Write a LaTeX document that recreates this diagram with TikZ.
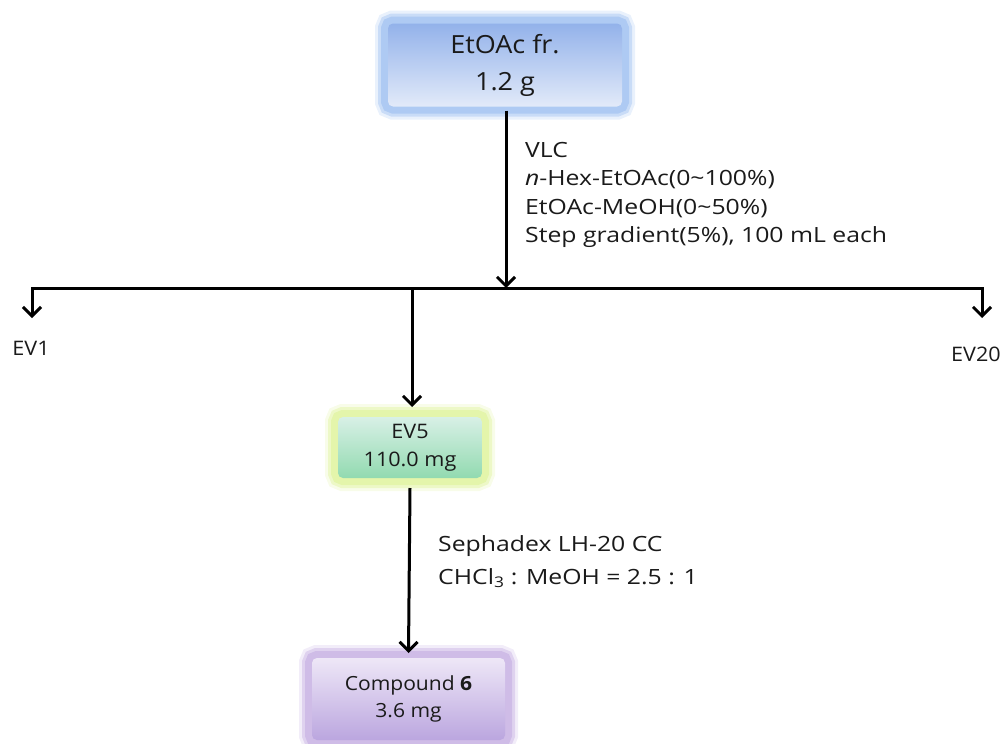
\documentclass[tikz,border=0pt]{standalone}
\usepackage{fontspec}
\setmainfont{Open Sans}
\newfontfamily\wide[FakeStretch=1.18]{Open Sans}
\newfontfamily\wideb[FakeStretch=1.08]{Open Sans}
\usetikzlibrary{arrows.meta}
\definecolor{glowblue}{HTML}{A9C7F2}
\definecolor{bluetop}{HTML}{93B2EA}
\definecolor{bluebot}{HTML}{E2EAF9}
\definecolor{glowgreen}{HTML}{E2F4A6}
\definecolor{greentop}{HTML}{D8F0E6}
\definecolor{greenbot}{HTML}{92DAB0}
\definecolor{glowpurple}{HTML}{CCB8E6}
\definecolor{purptop}{HTML}{EEE7F7}
\definecolor{purpbot}{HTML}{BBA6DF}
\definecolor{ink}{HTML}{1A1A1A}
\begin{document}
\begin{tikzpicture}[x=1pt,y=-1pt,
  conn/.style={line width=3pt,-{Straight Barb[length=9pt,width=18pt,line width=3pt]}},
  box/.style={rounded corners=5pt,inner sep=0pt,align=center,text=ink},
  glowbox/.style 2 args={box,
    preaction={draw=#1,line width=26pt,opacity=0.25},
    preaction={draw=#1,line width=20pt,opacity=0.5},
    preaction={draw=#1,line width=14pt,opacity=0.85},
    shade,shading angle=0,top color=#2},
  lbl/.style={anchor=north west,align=left,text=ink,inner sep=0pt}
]
\useasboundingbox (0,0) rectangle (1007,744);

\node[glowbox={glowblue}{bluetop},bottom color=bluebot,minimum width=234pt,minimum height=83pt,outer sep=4pt,
  font=\wideb\fontsize{25}{37}\selectfont] (top) at (505,65) {EtOAc fr.\\1.2 g};

\node[glowbox={glowgreen}{greentop},bottom color=greenbot,minimum width=144pt,minimum height=61pt,outer sep=10pt,
  font=\wideb\fontsize{20}{28}\selectfont] (ev5) at (410,447.5) {EV5\\110.0 mg};

\node[glowbox={glowpurple}{purptop},bottom color=purpbot,minimum width=193pt,minimum height=82pt,outer sep=5pt,
  font=\wideb\fontsize{19.5}{27}\selectfont] (cmp) at (408.5,699) {Compound \textbf{6}\\3.6 mg};

\coordinate (j) at (506,288);
\coordinate (jl) at (32,288);
\coordinate (jr) at (982,288);
\coordinate (jm) at (412,288);
\coordinate (e1) at (32,318);
\coordinate (e20) at (982,318);

\node[text=ink,inner sep=0pt,font=\wideb\fontsize{20}{23}\selectfont] (ev1) at (31,348) {EV1};
\node[text=ink,inner sep=0pt,font=\wideb\fontsize{20}{23}\selectfont] (ev20) at (976,354) {EV20};

\draw[line width=3pt] (jl) -- (jr);
\draw[conn] (top.south -| j) -- (j);
\draw[conn] (j) -- (jl) -- (e1);
\draw[conn] (j) -- (jr) -- (e20);
\draw[conn] (jm) -- (jm |- ev5.north);
\draw[conn] (ev5.south) -- (cmp.north);

\node[lbl,font=\wide\fontsize{21}{28.5}\selectfont] (vlc) at (525,142) {VLC\\\textit{n}-Hex-EtOAc(0\textasciitilde100\%)\\EtOAc-MeOH(0\textasciitilde50\%)\\Step gradient(5\%), 100 mL each};

\node[lbl,font=\wide\fontsize{21}{33}\selectfont] (seph) at (438,535) {Sephadex LH-20 CC\\CHCl\textsubscript{3} : MeOH = 2.5 : 1};
\end{tikzpicture}
\end{document}
